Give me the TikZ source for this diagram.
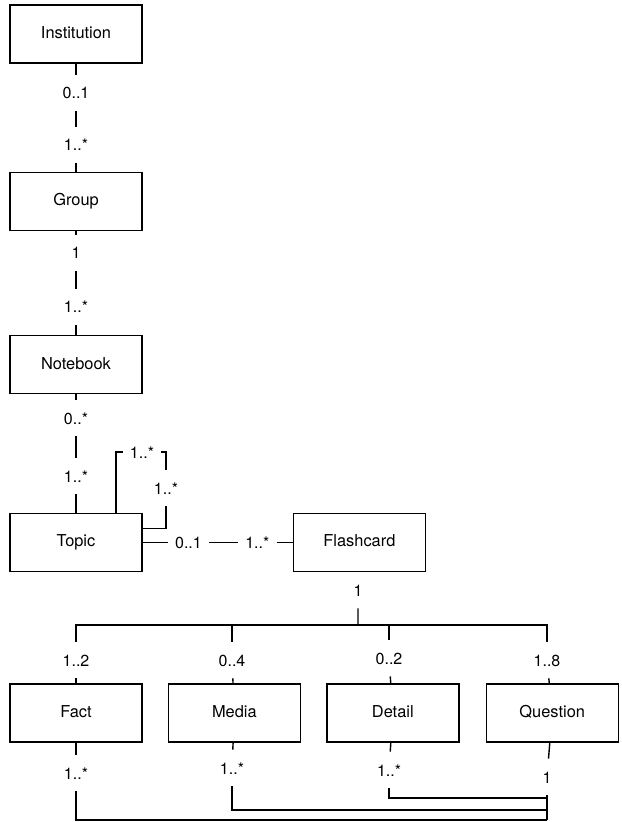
\documentclass[tikz,border=0pt]{standalone}
\usepackage{fontspec}
\setmainfont{TeX Gyre Heros}
\usetikzlibrary{positioning}
\tikzset{
  classbox/.style={draw, line width=0.7pt, minimum width=66pt, minimum height=29pt,
                   inner sep=0pt, text height=6pt, text depth=1.7pt,
                   font=\fontsize{8.2}{10}\selectfont},
  mult/.style={inner xsep=3.5pt, inner ysep=6pt, text height=6pt, text depth=0pt,
               font=\fontsize{8}{10}\selectfont},
  link/.style={line width=0.7pt},
}

\begin{document}
\begin{tikzpicture}[x=0.5pt, y=-0.5pt]
    \useasboundingbox (0,0) rectangle (621,822);

    % classes
    \node[classbox] (inst) at (76,34) {Institution};
    \node[classbox, below=54pt of inst] (group) {Group};
    \node[classbox, below=52pt of group] (nb) {Notebook};
    \node[classbox, below=59pt of nb] (topic) {Topic};
    \node[classbox, right=75pt of topic] (fc) {Flashcard};
    \node[classbox] (fact) at (76,713) {Fact};
    \node[classbox, right=12.5pt of fact] (media) {Media};
    \node[classbox, right=12.5pt of media] (detail) {Detail};
    \node[classbox, right=13pt of detail] (quest) {Question};

    % multiplicities
    \node[mult] (inst1) at (76,93) {0..1};
    \node[mult] (group1) at (76,145) {1..*};
    \node[mult] (group2) at (76,253) {1};
    \node[mult] (nb1) at (76,307) {1..*};
    \node[mult] (nb2) at (76,418) {0..*};
    \node[mult] (topic1) at (76,476) {1..*};
    \node[mult] (selfa) at (142,452) {1..*};
    \node[mult] (selfb) at (166,488) {1..*};
    \node[mult, right=12.5pt of topic] (topic2) {0..1};
    \node[mult, left=8pt of fc] (fc1) {1..*};
    \node[mult] (fc2) at (358,590) {1};
    \node[mult] (factt) at (76,660) {1..2};
    \node[mult] (mediat) at (232,660) {0..4};
    \node[mult] (detailt) at (389,658) {0..2};
    \node[mult] (questt) at (547,660) {1..8};
    \node[mult] (factb) at (76,773) {1..*};
    \node[mult] (mediab) at (232,768) {1..*};
    \node[mult] (detailb) at (389,770) {1..*};
    \node[mult] (questb) at (547,777) {1};

    \coordinate (hub) at (358,625);
    \coordinate (busf) at (547,820);
    \coordinate (busm) at (547,810);
    \coordinate (busd) at (547,798);

    % associations
    \draw[link] (inst) -- (inst1) -- (group1) -- (group);
    \draw[link] (group) -- (group2) -- (nb1) -- (nb);
    \draw[link] (nb) -- (nb2) -- (topic1) -- (topic);
    \draw[link] ([xshift=20pt]topic.north) |- (selfa);
    \draw[link] (selfa) -| (selfb);
    \draw[link] (selfb) |- ([yshift=7pt]topic.east);
    \draw[link] (topic) -- (topic2) -- (fc1) -- (fc);
    \draw[link] (fc) -- (fc2) -- (hub);
    \foreach \m/\c in {factt/fact, mediat/media, detailt/detail, questt/quest} {
      \draw[link] (hub) -| (\m);
      \draw[link] (\m) -- (\c);
    }
    \foreach \m/\c in {factb/fact, mediab/media, detailb/detail, questb/quest}
      \draw[link] (\c) -- (\m);
    \draw[link] (factb) |- (busf);
    \draw[link] (mediab) |- (busm);
    \draw[link] (detailb) |- (busd);
    \draw[link] (questb) -- (busf);
  \end{tikzpicture}
\end{document}
